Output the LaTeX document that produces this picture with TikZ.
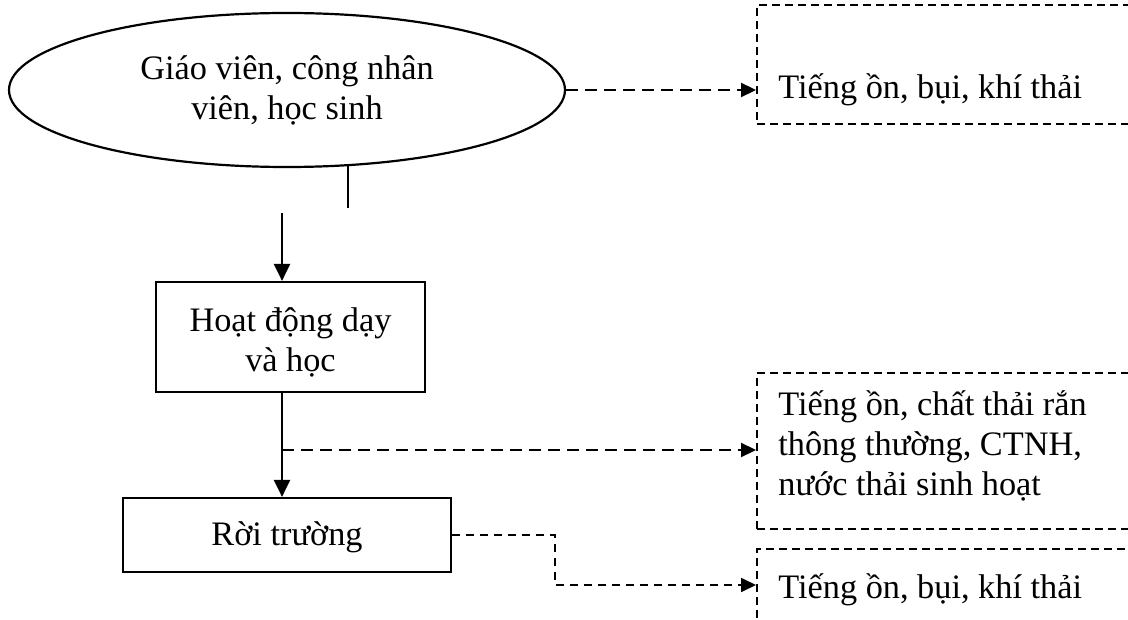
\documentclass[tikz,border=0pt]{standalone}
\usepackage{fontspec}
\setmainfont{Liberation Serif}
\usetikzlibrary{arrows.meta,shapes.geometric}
\begin{document}
\begin{tikzpicture}[x=0.5pt,y=-0.5pt,
  every node/.style={font=\fontsize{17.15pt}{20pt}\selectfont},
  sbox/.style={draw, line width=1.1pt, rectangle, inner sep=0pt, align=center},
  ellbox/.style={draw, line width=1.1pt, ellipse, inner sep=0pt, align=center},
  dbox/.style={draw, line width=0.85pt, dash pattern=on 4pt off 2.5pt, rectangle, inner sep=0pt, anchor=north west},
  txt/.style={inner sep=0pt, anchor=base west, align=left},
  sarr/.style={line width=1.2pt, -{Triangle[length=8.5pt,width=8pt]}},
  darr/.style={line width=1.1pt, dash pattern=on 6pt off 3.5pt, -{Triangle[length=7.5pt,width=7pt]}},
  darrb/.style={line width=0.85pt, dash pattern=on 4pt off 3pt, -{Triangle[length=7.5pt,width=7pt]}},
]
\clip (0,0) rectangle (1128,620);
\fill[white] (0,0) rectangle (1128,620);

\node[ellbox, minimum width=278pt, minimum height=77pt] (ell) at (287,90) {Giáo viên, công nhân\\viên, học sinh};
\node[sbox, minimum width=134.5pt, minimum height=55pt] (hd) at (290.5,337) {\rule{0pt}{17.5pt}Hoạt động dạy\\và học};
\node[sbox, minimum width=164pt, minimum height=37pt] (rt) at (287,535) {\rule[-3pt]{0pt}{17pt}Rời trường};

\node[dbox, minimum width=210pt, minimum height=59.5pt] (b1) at (756,4) {};
\node[dbox, minimum width=210pt, minimum height=78pt] (b2) at (756,372) {};
\node[dbox, minimum width=210pt, minimum height=50pt] (b3) at (756,548) {};

\node[txt] (t1) at (778,99) {Tiếng ồn, bụi, khí thải};
\node[txt] (t2) at (778,495) {Tiếng ồn, chất thải rắn\\thông thường, CTNH,\\nước thải sinh hoạt};
\node[txt] (t3) at (778,598) {Tiếng ồn, bụi, khí thải};

\coordinate (s1) at (348,208);
\draw[line width=1pt] (ell.south) ++(61,-2) -- (s1);
\coordinate (a1) at (282,213);
\draw[sarr] (a1) -- (a1 |- hd.north);
\draw[sarr] (hd.south -| a1) -- (rt.north -| a1);
\coordinate (j1) at (282,450);
\draw[darr] (j1) -- (j1 -| b2.west);
\draw[darr] (ell.east) -- (ell.east -| b1.west);
\coordinate (j2) at (555,585);
\draw[darrb] (rt.east) -| (j2) -- (j2 -| b3.west);
\end{tikzpicture}
\end{document}
